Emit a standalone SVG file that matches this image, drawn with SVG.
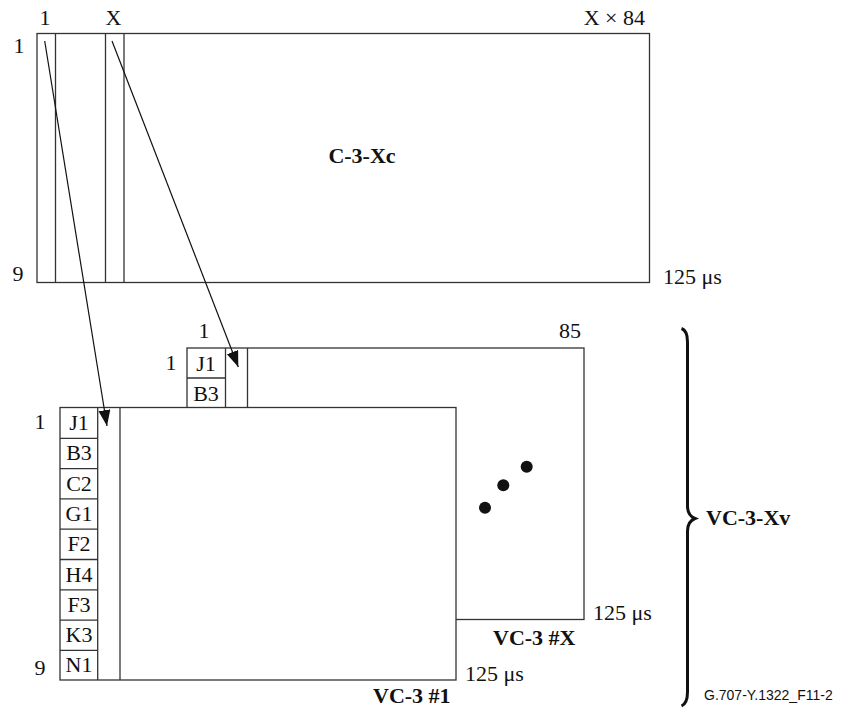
<svg xmlns="http://www.w3.org/2000/svg" width="852" height="708" viewBox="0 0 852 708">
<style>
.ln{fill:none;stroke:#333;stroke-width:1.3}
.bx{fill:#fff;stroke:#333;stroke-width:1.3}
.t{font-family:"Liberation Serif","Times New Roman",serif;font-size:22px;fill:#111}
.b{font-weight:bold}
.m{text-anchor:middle}
.e{text-anchor:end}
.ar{fill:none;stroke:#111;stroke-width:1.2}
</style>
<defs>
<marker id="ah" markerUnits="userSpaceOnUse" markerWidth="18" markerHeight="14" refX="16" refY="6" orient="auto">
<path d="M0,0 L16,6 L0,12 z" fill="#111"/>
</marker>
</defs>
<rect width="852" height="708" fill="#fff"/>

<g id="c3xc">
<rect class="bx" x="37" y="33.5" width="612.5" height="249"/>
<line class="ln" x1="55.5" y1="33.5" x2="55.5" y2="282.5"/>
<line class="ln" x1="105.5" y1="33.5" x2="105.5" y2="282.5"/>
<line class="ln" x1="124" y1="33.5" x2="124" y2="282.5"/>
<text class="t m" x="45" y="25">1</text>
<text class="t m" x="113.5" y="25">X</text>
<text class="t e" x="645" y="25">X × 84</text>
<text class="t m" x="19" y="53">1</text>
<text class="t m" x="18" y="281">9</text>
<text class="t" x="663" y="284">125 μs</text>
<text class="t b m" x="362" y="163">C-3-Xc</text>
</g>

<g id="vc3x">
<rect class="bx" x="187" y="348" width="397" height="271.5"/>
<line class="ln" x1="225.5" y1="348" x2="225.5" y2="408"/>
<line class="ln" x1="247.5" y1="348" x2="247.5" y2="408"/>
<line class="ln" x1="187" y1="378" x2="225.5" y2="378"/>
<text class="t m" x="206" y="371">J1</text>
<text class="t m" x="206" y="401">B3</text>
<text class="t m" x="204" y="338">1</text>
<text class="t e" x="581" y="338">85</text>
<text class="t m" x="171" y="370">1</text>
<text class="t" x="593" y="620">125 μs</text>
<text class="t b" x="493" y="645">VC-3 #X</text>
</g>

<g id="vc31">
<rect class="bx" x="60" y="407.5" width="396" height="272.5"/>
<line class="ln" x1="97.7" y1="407.5" x2="97.7" y2="680"/>
<line class="ln" x1="120" y1="407.5" x2="120" y2="680"/>
<line class="ln" x1="60" y1="438.3" x2="97.7" y2="438.3"/>
<line class="ln" x1="60" y1="468.6" x2="97.7" y2="468.6"/>
<line class="ln" x1="60" y1="498.9" x2="97.7" y2="498.9"/>
<line class="ln" x1="60" y1="529.2" x2="97.7" y2="529.2"/>
<line class="ln" x1="60" y1="559.5" x2="97.7" y2="559.5"/>
<line class="ln" x1="60" y1="589.8" x2="97.7" y2="589.8"/>
<line class="ln" x1="60" y1="620.1" x2="97.7" y2="620.1"/>
<line class="ln" x1="60" y1="650.4" x2="97.7" y2="650.4"/>
<text class="t m" x="79" y="430">J1</text>
<text class="t m" x="79" y="460.3">B3</text>
<text class="t m" x="79" y="490.6">C2</text>
<text class="t m" x="79" y="520.9">G1</text>
<text class="t m" x="79" y="551.2">F2</text>
<text class="t m" x="79" y="581.5">H4</text>
<text class="t m" x="79" y="611.8">F3</text>
<text class="t m" x="79" y="642.1">K3</text>
<text class="t m" x="79" y="672.4">N1</text>
<text class="t m" x="40" y="429">1</text>
<text class="t m" x="40" y="675">9</text>
<text class="t" x="465" y="681">125 μs</text>
<text class="t b" x="373" y="703">VC-3 #1</text>
</g>

<g id="dots" fill="#111">
<circle cx="526.7" cy="466.7" r="6"/>
<circle cx="503.3" cy="485.3" r="6"/>
<circle cx="485" cy="507.7" r="6"/>
</g>

<g id="vc3xv">
<path d="M681.5,328.5 C686,330 687.5,334 687.5,342 L687.5,506 C687.5,513 690,516.5 695,518.5 C690,520.5 687.5,524 687.5,531 L687.5,692 C687.5,700 686,704 681.5,706" fill="none" stroke="#111" stroke-width="3"/>
<text class="t b" x="706" y="525">VC-3-Xv</text>
</g>

<g id="connectors">
<line class="ar" x1="44.7" y1="41" x2="107" y2="426" marker-end="url(#ah)"/>
<line class="ar" x1="112" y1="41" x2="238.3" y2="367" marker-end="url(#ah)"/>
</g>

<text x="704" y="700" font-family="Liberation Sans,Arial,sans-serif" font-size="14" fill="#111">G.707-Y.1322_F11-2</text>
</svg>
